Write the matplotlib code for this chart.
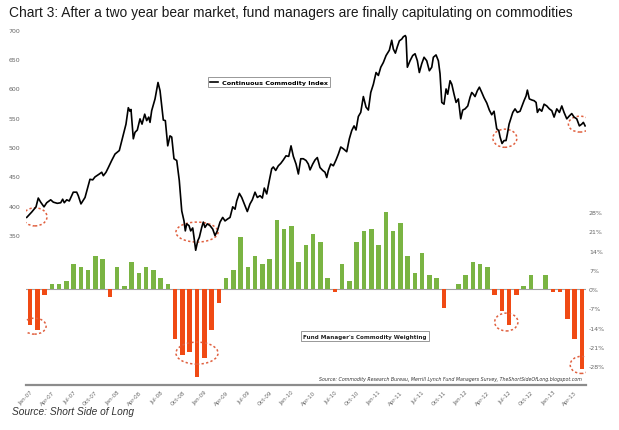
import matplotlib
matplotlib.use("Agg")
import matplotlib.pyplot as plt
from matplotlib.patches import Ellipse
from matplotlib.lines import Line2D

# Continuous Commodity Index (months since Jan-07 -> index level)
cci_month = [-0.45, 0.23, 0.83, 1.14, 1.47, 1.93, 2.30, 2.85, 3.21, 3.76, 4.23, 4.50, 4.72, 5.06,
             5.41, 5.96, 6.43, 6.65, 7.02, 7.58, 8.26, 8.64, 8.95, 9.55, 9.88, 10.10, 10.47, 10.79,
             11.25, 11.71, 12.30, 12.77, 13.22, 13.54, 13.77, 13.91, 14.23, 14.46, 14.78, 15.15,
             15.43, 15.80, 16.07, 16.35, 16.53, 16.76, 17.22, 17.63, 17.91, 18.36, 18.64, 18.97,
             19.28, 19.52, 19.83, 20.21, 20.56, 20.90, 21.21, 21.39, 21.58, 21.90, 22.13, 22.41,
             22.59, 22.82, 23.10, 23.32, 23.65, 23.87, 24.10, 24.42, 24.79, 25.17, 25.48, 25.80,
             26.17, 26.54, 26.86, 27.18, 27.55, 27.92, 28.24, 28.47, 28.83, 29.16, 29.52, 29.93,
             30.30, 30.62, 30.99, 31.31, 31.68, 32.00, 32.27, 32.60, 32.96, 33.29, 33.51, 33.84,
             34.20, 34.53, 34.89, 35.26, 35.63, 35.95, 36.27, 36.64, 36.96, 37.29, 37.64, 38.02,
             38.33, 38.57, 38.94, 39.26, 39.57, 39.94, 40.32, 40.63, 40.87, 41.09, 41.42, 41.78,
             42.15, 42.47, 42.80, 43.15, 43.62, 43.98, 44.31, 44.63, 44.90, 45.22, 45.55, 45.91,
             46.28, 46.60, 46.93, 47.29, 47.66, 47.98, 48.31, 48.66, 49.04, 49.49, 49.82, 50.04,
             50.32, 50.59, 50.87, 51.20, 51.42, 51.69, 51.79, 51.97, 52.34, 52.71, 53.03, 53.35,
             53.62, 53.95, 54.27, 54.64, 55.00, 55.33, 55.55, 55.92, 56.24, 56.47, 56.71, 57.02,
             57.30, 57.53, 57.85, 58.09, 58.40, 58.68, 58.99, 59.32, 59.60, 59.92, 60.29, 60.61,
             60.84, 61.06, 61.29, 61.61, 61.89, 62.22, 62.53, 62.91, 63.26, 63.59, 63.91, 64.28,
             64.56, 64.74, 65.01, 65.29, 65.56, 65.74, 65.98, 66.21, 66.49, 66.80, 67.12, 67.49,
             67.77, 68.04, 68.32, 68.50, 68.77, 69.15, 69.42, 69.70, 69.88, 70.15, 70.48, 70.80,
             71.17, 71.53, 71.86, 72.18, 72.55, 72.91, 73.24, 73.55, 73.93, 74.28, 74.61, 74.93,
             75.30, 75.66, 75.99, 76.21, 76.45]
cci_level = [380, 389, 398, 413, 406, 398, 405, 410, 406, 404, 405, 411, 405, 410,
             408, 423, 423, 417, 403, 414, 445, 444, 449, 454, 457, 451, 457, 465,
             477, 488, 494, 517, 539, 567, 561, 564, 514, 525, 529, 548,
             539, 556, 545, 551, 542, 562, 582, 610, 596, 546, 545, 502,
             519, 517, 480, 477, 443, 391, 374, 357, 369, 366, 357, 362,
             346, 324, 340, 346, 363, 372, 363, 369, 366, 360, 349, 357,
             372, 380, 374, 377, 380, 398, 394, 408, 421, 414, 403, 390,
             403, 410, 423, 414, 417, 413, 430, 420, 443, 463, 466, 460,
             468, 472, 478, 485, 484, 502, 484, 471, 454, 480, 480, 477,
             471, 461, 471, 478, 482, 465, 460, 457, 448, 460, 471, 468,
             478, 488, 500, 497, 492, 514, 528, 536, 529, 552, 559, 586,
             568, 563, 593, 607, 627, 622, 636, 644, 656, 665, 682, 667,
             660, 671, 681, 684, 688, 690, 687, 636, 647, 656, 659, 647,
             627, 642, 653, 647, 630, 636, 653, 657, 647, 625, 576, 573,
             599, 590, 613, 607, 590, 576, 582, 548, 563, 565, 570, 585,
             593, 590, 586, 596, 602, 593, 584, 575, 563, 555, 561, 531,
             528, 517, 506, 511, 511, 522, 539, 548, 559, 565, 559, 561,
             570, 579, 587, 597, 582, 580, 579, 576, 559, 565, 561, 573,
             570, 565, 562, 551, 565, 559, 570, 559, 548, 553, 557, 551,
             548, 536, 539, 542, 536]

# Fund managers' commodity weighting, monthly Jan-07 .. May-13 (%)
weighting = [-13, -15, -2, 2, 2, 3, 9, 8, 7, 12, 11, -3, 8, 1, 10, 6, 8, 7, 4, 2,
             -18, -24, -23, -32, -25, -15, -5, 4, 7, 19, 8, 12, 9, 11, 25, 22, 23, 10,
             16, 20, 17, 4, -1, 9, 3, 17, 21, 22, 16, 28, 21, 24, 12, 6, 13, 5, 4, -7,
             0, 2, 5, 10, 9, 8, -2, -8, -13, -2, 1, 5, 0, 5, -1, -1, -11, -18, -29]

tick_labels = ["Jan-07", "Apr-07", "Jul-07", "Oct-07", "Jan-08", "Apr-08", "Jul-08", "Oct-08",
               "Jan-09", "Apr-09", "Jul-09", "Oct-09", "Jan-10", "Apr-10", "Jul-10", "Oct-10",
               "Jan-11", "Apr-11", "Jul-11", "Oct-11", "Jan-12", "Apr-12", "Jul-12", "Oct-12",
               "Jan-13", "Apr-13"]
level_ticks = [350, 400, 450, 500, 550, 600, 650, 700]
pct_ticks = [-28, -21, -14, -7, 0, 7, 14, 21, 28]

GREEN = "#7ab443"
RED = "#f04a14"
RING = "#e0603f"

fig = plt.figure(figsize=(6.19, 4.31), dpi=100)
ax = fig.add_axes([0.042, 0.1044, 0.905, 0.8376])
axb = ax.twinx()
ax.set_zorder(2)
ax.patch.set_visible(False)

# bars
months = list(range(len(weighting)))
cols = [GREEN if w >= 0 else RED for w in weighting]
axb.bar(months, weighting, width=0.62, color=cols, zorder=2)
axb.axhline(0, color="#a0a0a0", lw=0.8, zorder=1)
axb.set_ylim(-34.9, 96.4)
axb.set_yticks(pct_ticks)
axb.set_yticklabels([f"{t}%" for t in pct_ticks])

# line
ax.plot(cci_month, cci_level, color="black", lw=1.2)
ax.set_ylim(94.3, 709.7)
ax.set_xlim(-0.55, 76.6)
ax.set_yticks(level_ticks)
ax.set_xticks(range(0, 76, 3))
ax.set_xticklabels(tick_labels, rotation=45, ha="right", rotation_mode="anchor")

for a in (ax, axb):
    for s in a.spines.values():
        s.set_visible(False)
    a.tick_params(length=0, labelsize=4.5, labelcolor="#666666")
ax.spines["bottom"].set_visible(True)
ax.spines["bottom"].set_color("#8c8c8c")
ax.spines["bottom"].set_linewidth(1.6)
ax.tick_params(axis="y", pad=4)
ax.tick_params(axis="x", pad=3, labelsize=4)
axb.tick_params(axis="y", pad=2)

# dotted rings
for cx, cy, w, h in [(0.69, 381, 3.3, 31), (23.0, 355, 5.8, 34), (65.4, 515, 3.3, 31), (75.75, 539, 3.2, 27)]:
    ax.add_patch(Ellipse((cx, cy), w, h, fill=False, ec=RING, ls=(0, (1.5, 1.5)), lw=1.1))
for cx, cy, w, h in [(0.62, -13.5, 3.2, 5.8), (23.0, -23.3, 5.8, 8.0), (65.6, -12.0, 3.2, 6.5), (75.9, -27.6, 3.0, 6.2)]:
    axb.add_patch(Ellipse((cx, cy), w, h, fill=False, ec=RING, ls=(0, (1.5, 1.5)), lw=1.1, zorder=3))

# legend boxes
leg = ax.legend([Line2D([0], [0], color="black", lw=1.2)], ["Continuous Commodity Index"],
                loc="center", bbox_to_anchor=(269 / 619, 1 - 83 / 431), bbox_transform=fig.transFigure,
                fancybox=False, framealpha=1, edgecolor="#888888", handlelength=1.2,
                borderpad=0.3, handletextpad=0.6,
                prop={"family": "DejaVu Sans", "size": 4.6, "weight": "bold"})
leg.get_frame().set_linewidth(0.6)
fig.text(365 / 619, 1 - 337 / 431, "Fund Manager's Commodity Weighting", ha="center", va="center",
         fontsize=4.1, fontweight="bold", family="DejaVu Sans", color="#222222",
         bbox=dict(boxstyle="square,pad=0.4", fc="white", ec="#888888", lw=0.6))

fig.text(582 / 619, 1 - 380 / 431,
         "Source: Commodity Research Bureau, Merrill Lynch Fund Managers Survey, TheShortSideOfLong.blogspot.com",
         ha="right", va="center", fontsize=3.45, style="italic", color="#333333", family="DejaVu Sans")

fig.text(9 / 619, 1 - 13 / 431,
         "Chart 3: After a two year bear market, fund managers are finally capitulating on commodities",
         ha="left", va="center", fontsize=9.95, family="Liberation Sans", color="#1a1a1a")
fig.text(12 / 619, 1 - 412 / 431, "Source: Short Side of Long", ha="left", va="center",
         fontsize=7.3, style="italic", family="Liberation Sans", color="#333333")

fig.savefig("out.png", dpi=100)
